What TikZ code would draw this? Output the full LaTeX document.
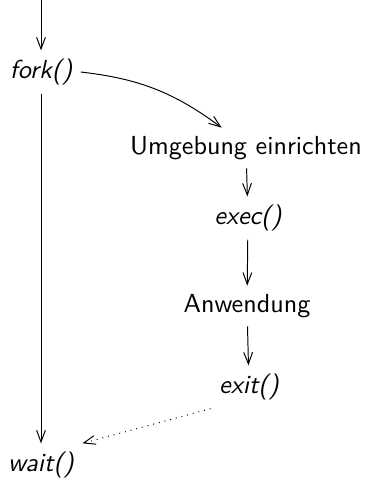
\documentclass[tikz,border=0pt]{standalone}
\usepackage{tikz}
\usetikzlibrary{arrows.meta}
\begin{document}
\begin{tikzpicture}[x=0.41pt,y=-0.41pt,
  every node/.style={font=\fontsize{10.7}{13}\sffamily},
  fn/.style={font=\fontsize{10.7}{13}\sffamily\itshape},
  flow/.style={-{Straight Barb[length=4.8pt,width=3.6pt]}},
  sig/.style={-{Straight Barb[length=4.8pt,width=3.6pt]},dotted}]
\useasboundingbox (0,0) rectangle (368,484);
\coordinate (top) at (41,0);
\node[fn] (fork) at (41,72) {fork()};
\node (umg) at (246,148) {Umgebung einrichten};
\node[fn] (exec) at (248,218) {exec()};
\node (anw) at (247,306) {Anwendung};
\node[fn] (exit) at (249,387) {exit()};
\node[fn] (wait) at (41,465) {wait()};
\draw[flow] (top) -- (fork);
\draw[flow] (fork.east) to[bend left=15] ([xshift=-10pt]umg.north);
\draw[flow] (umg) -- (exec);
\draw[flow] (exec) -- (anw);
\draw[flow] (anw) -- (exit);
\draw[flow] (fork) -- (wait);
\draw[sig] (exit.south west) -- (wait.north east);
\end{tikzpicture}
\end{document}
